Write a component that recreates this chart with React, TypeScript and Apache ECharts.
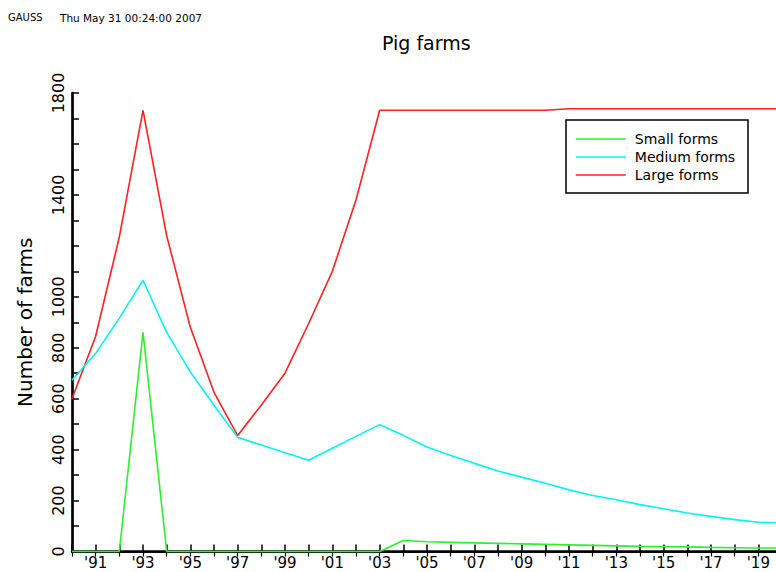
import React, { useEffect, useRef } from 'react';
import * as echarts from 'echarts';

const years = [1990, 1991, 1992, 1993, 1994, 1995, 1996, 1997, 1998, 1999, 2000, 2001, 2002, 2003, 2004, 2005, 2006, 2007, 2008, 2009, 2010, 2011, 2012, 2013, 2014, 2015, 2016, 2017, 2018, 2019, 2020];
const smallFarms = [0, 0, 0, 860, 0, 0, 0, 0, 0, 0, 0, 0, 0, 0, 43, 38, 36, 34, 32, 30, 28, 26, 24, 22, 20, 19, 18, 16, 15, 14, 14];
const mediumFarms = [672, 778, 916, 1065, 860, 705, 574, 448, 418, 388, 358, 405, 452, 498, 456, 410, 377, 346, 316, 292, 268, 242, 220, 203, 184, 168, 151, 138, 125, 115, 111];
const largeFarms = [600, 845, 1235, 1732, 1240, 880, 625, 455, 575, 700, 895, 1100, 1380, 1732, 1732, 1732, 1732, 1732, 1732, 1732, 1732, 1738, 1738, 1738, 1738, 1738, 1738, 1738, 1738, 1738, 1738];
const yTickLabels = [0, 200, 400, 600, 800, 1000, 1400, 1800];
const xLabelYears = [1991, 1993, 1995, 1997, 1999, 2001, 2003, 2005, 2007, 2009, 2011, 2013, 2015, 2017, 2019];
const seriesNames = ['Small forms', 'Medium forms', 'Large forms'];
const seriesColors = ['#2cf02c', '#00f4f4', '#ff2020'];

const FONT = 'DejaVu Sans';

export default function App() {
  const ref = useRef<HTMLDivElement>(null);
  useEffect(() => {
    const chart = echarts.init(ref.current!, null, { renderer: 'svg' });
    const pair = (arr: number[]) => years.map((y, i) => [y, arr[i]]);
    const allData = [smallFarms, mediumFarms, largeFarms];
    chart.setOption({
      animation: false,
      backgroundColor: '#ffffff',
      title: {
        text: 'Pig farms',
        left: 382,
        top: 33,
        padding: 0,
        textStyle: { fontFamily: FONT, fontSize: 19, fontWeight: 'normal', color: '#000' },
      },
      graphic: [
        { type: 'text', left: 8, top: 12, style: { text: 'GAUSS', fontFamily: FONT, fontSize: 10, fill: '#000' } },
        { type: 'text', left: 60, top: 12, style: { text: 'Thu May 31 00:24:00 2007', fontFamily: FONT, fontSize: 10.5, fill: '#000' } },
        { type: 'rect', shape: { x: 566, y: 120, width: 182, height: 73 }, style: { fill: '#fff', stroke: '#000', lineWidth: 1.5 }, z: 10 },
      ],
      legend: {
        left: 575,
        top: 132,
        orient: 'vertical',
        padding: 0,
        itemWidth: 50,
        itemHeight: 14,
        itemGap: 4,
        z: 20,
        data: seriesNames,
        itemStyle: { opacity: 0 },
        lineStyle: { width: 1.6 },
        textStyle: { fontFamily: FONT, fontSize: 14, color: '#000', padding: [0, 0, 0, 4] },
      },
      grid: { left: 72, top: 93, right: -6, bottom: 20.5, outerBoundsMode: 'none', containLabel: false },
      xAxis: [
        {
          type: 'value', position: 'bottom', min: 1990, max: 2020, interval: 1,
          axisLine: { lineStyle: { color: '#000', width: 2.5 } },
          axisTick: { inside: true, length: 7, lineStyle: { color: '#000', width: 1.5 } },
          axisLabel: {
            formatter: (v: number) => (xLabelYears.includes(v) ? "'" + String(v).slice(2) : ''),
            fontFamily: FONT, fontSize: 15, color: '#000', margin: 4,
          },
          splitLine: { show: false },
        },
        {
          type: 'value', position: 'top', min: 1990, max: 2020, interval: 1,
          axisLine: { lineStyle: { color: '#000', width: 1.8 } },
          axisTick: { inside: true, length: 5, lineStyle: { color: '#000', width: 1.2 } },
          axisLabel: { show: false },
          splitLine: { show: false },
        },
      ],
      yAxis: [
        {
          type: 'value', position: 'left', min: 0, max: 1800, interval: 100,
          name: 'Number of farms', nameLocation: 'middle', nameRotate: 90, nameGap: 37,
          nameTextStyle: { fontFamily: FONT, fontSize: 20, color: '#000' },
          axisLine: { lineStyle: { color: '#000', width: 2.7 } },
          axisTick: { inside: true, length: 7, lineStyle: { color: '#000', width: 1.5 } },
          axisLabel: {
            rotate: 90,
            formatter: (v: number) => (yTickLabels.includes(v) ? String(v) : ''),
            fontFamily: FONT, fontSize: 16, color: '#000', margin: 6,
          },
          splitLine: { show: false },
        },
        {
          type: 'value', position: 'right', min: 0, max: 1800, interval: 100,
          axisLine: { show: true, lineStyle: { color: '#000', width: 1.8 } },
          axisTick: { show: true, inside: true, length: 6, lineStyle: { color: '#000', width: 1.2 } },
          axisLabel: { show: false },
          splitLine: { show: false },
        },
      ],
      series: seriesNames.map((name, i) => ({
        name,
        type: 'line',
        xAxisIndex: 0,
        yAxisIndex: 0,
        data: pair(allData[i]),
        symbol: 'none',
        showSymbol: false,
        clip: false,
        color: seriesColors[i],
        lineStyle: { color: seriesColors[i], width: 1.6 },
        z: 5 - i,
      })),
    });
    return () => chart.dispose();
  }, []);
  return <div ref={ref} style={{ position: 'absolute', left: 0, top: 0, width: 776, height: 572 }} />;
}
